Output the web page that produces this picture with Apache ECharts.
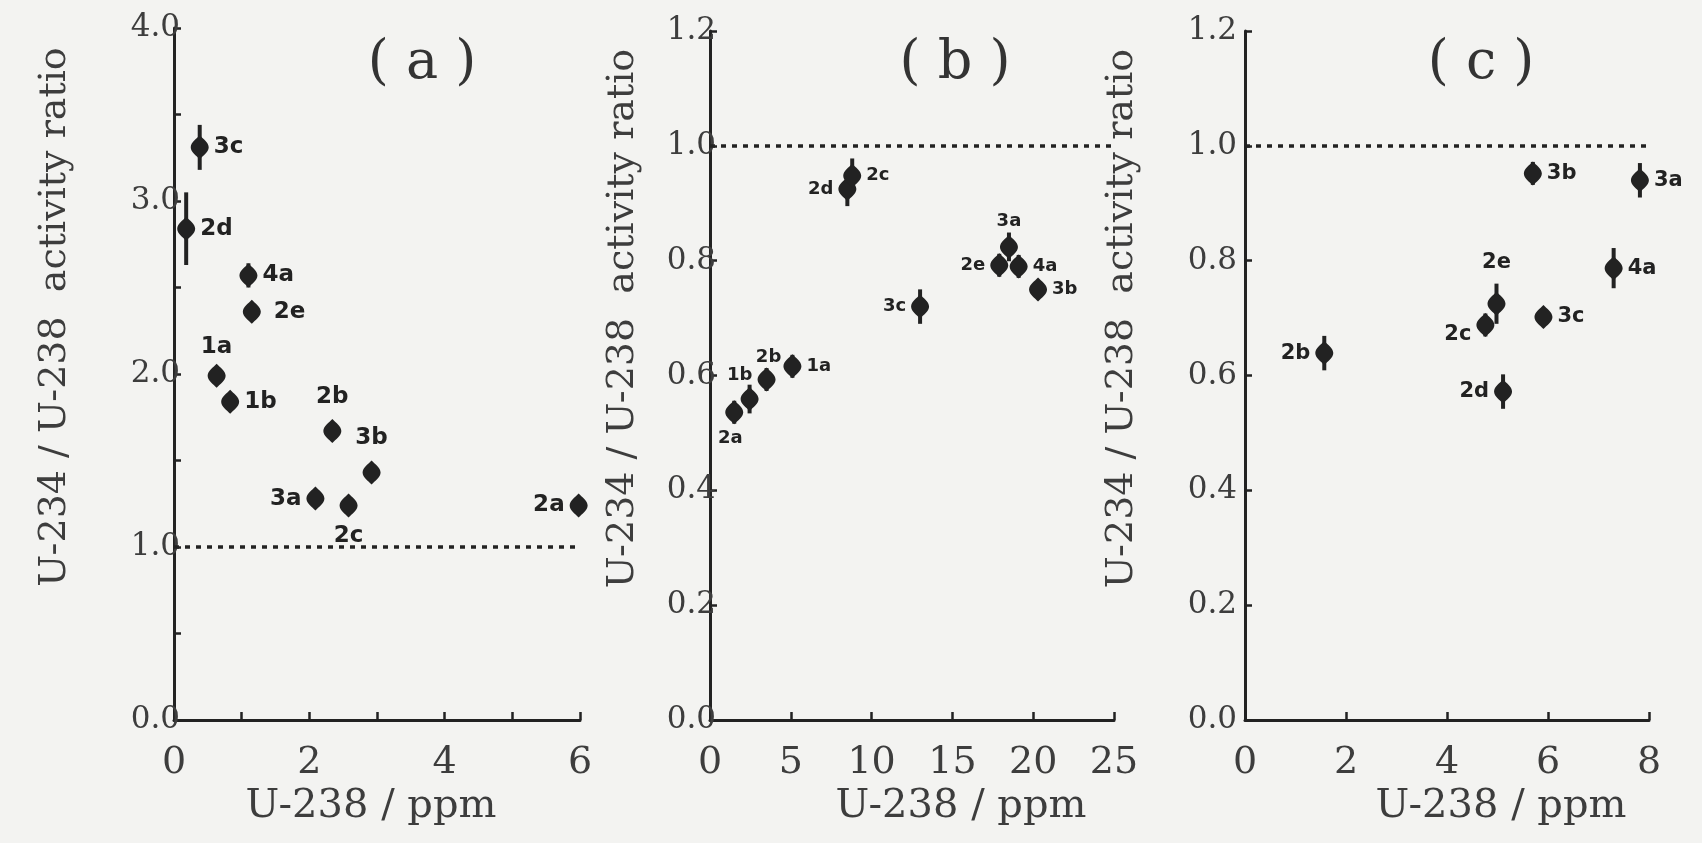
<!DOCTYPE html>
<html>
<head>
<meta charset="utf-8">
<script src="https://cdn.jsdelivr.net/npm/echarts@6/dist/echarts.min.js"></script>
<style>
  html, body { margin: 0; padding: 0; background: #f3f3f1; }
  #chart { width: 1702px; height: 843px; }
</style>
</head>
<body>
<div id="chart"></div>
<script>
// ---- Panel (a) ----
const aIds   = ['3c', '2d', '4a', '2e', '1a', '1b', '2b', '3b', '3a', '2c', '2a'];
const aU238  = [0.38, 0.18, 1.10, 1.15, 0.63, 0.83, 2.34, 2.92, 2.09, 2.58, 5.98];
const aRatio = [3.31, 2.84, 2.57, 2.36, 1.99, 1.84, 1.67, 1.43, 1.28, 1.24, 1.24];
const aErr   = [0.13, 0.21, 0.07, 0.05, 0.05, 0.05, 0.04, 0.05, 0.05, 0.05, 0.03];
const aXTicks = [0, 2, 4, 6];
const aYTicks = [0, 1, 2, 3, 4];

// ---- Panel (b) ----
const bIds   = ['2a', '1b', '2b', '1a', '2d', '2c', '3c', '3a', '2e', '4a', '3b'];
const bU238  = [1.5, 2.45, 3.5, 5.1, 8.5, 8.8, 13.0, 18.5, 17.9, 19.1, 20.3];
const bRatio = [0.536, 0.559, 0.593, 0.616, 0.925, 0.948, 0.720, 0.824, 0.792, 0.790, 0.750];
const bErr   = [0.020, 0.025, 0.020, 0.020, 0.030, 0.030, 0.030, 0.025, 0.020, 0.020, 0.015];
const bXTicks = [0, 5, 10, 15, 20, 25];
const bYTicks = [0, 0.2, 0.4, 0.6, 0.8, 1.0, 1.2];

// ---- Panel (c) ----
const cIds   = ['2b', '2e', '2c', '3c', '4a', '2d', '3b', '3a'];
const cU238  = [1.57, 4.98, 4.76, 5.91, 7.30, 5.11, 5.70, 7.82];
const cRatio = [0.639, 0.725, 0.688, 0.702, 0.787, 0.572, 0.952, 0.940];
const cErr   = [0.030, 0.035, 0.020, 0.015, 0.035, 0.030, 0.020, 0.030];
const cXTicks = [0, 2, 4, 6, 8];
const cYTicks = [0, 0.2, 0.4, 0.6, 0.8, 1.0, 1.2];

// secular equilibrium reference
const equilibrium = 1.0;

// where each sample tag sits relative to its marker
const tagSide = {
  a: { '3c': 'right', '2d': 'right', '4a': 'right', '2e': 'right', '1a': 'top', '1b': 'right',
       '2b': 'top', '3b': 'top', '3a': 'left', '2c': 'bottom', '2a': 'left' },
  b: { '2a': 'bottom', '1b': 'top', '2b': 'top', '1a': 'right', '2d': 'left', '2c': 'right',
       '3c': 'left', '3a': 'top', '2e': 'left', '4a': 'right', '3b': 'right' },
  c: { '2b': 'left', '2e': 'top', '2c': 'left', '3c': 'right', '4a': 'right', '2d': 'left',
       '3b': 'right', '3a': 'right' }
};
const tagOffset = {
  a: { '2e': [8, 0], '2b': [0, -6], '3b': [0, -6], '2c': [0, 2] },
  b: { '1b': [-10, 2], '2b': [2, 4], '2a': [-4, 0] },
  c: { '2e': [0, -14], '2c': [0, 10] }
};

const INK = '#222222';
const TEXT = '#3d3d3d';
const SERIF = 'DejaVu Serif';

const markerPath = 'path://M0,-10 C2.5,-7 7,-4 7,0 C7,4 2.5,7 0,10 C-2.5,7 -7,4 -7,0 C-7,-4 -2.5,-7 0,-10 Z';

const panels = [
  { key: 'a', ids: aIds, xs: aU238, ys: aRatio, es: aErr, xT: aXTicks, yT: aYTicks,
    grid: { left: 174, top: 28, width: 406, height: 692 },
    x: { max: 6, interval: 1 }, y: { max: 4, interval: 0.5 },
    yLabelMargin: -6, yNameGap: 100, xNameShift: -6, tagSize: 23 },
  { key: 'b', ids: bIds, xs: bU238, ys: bRatio, es: bErr, xT: bXTicks, yT: bYTicks,
    grid: { left: 710, top: 31, width: 404, height: 689 },
    x: { max: 25, interval: 5 }, y: { max: 1.2, interval: 0.2 },
    yLabelMargin: -6, yNameGap: 68, xNameShift: 49, tagSize: 18 },
  { key: 'c', ids: cIds, xs: cU238, ys: cRatio, es: cErr, xT: cXTicks, yT: cYTicks,
    grid: { left: 1245, top: 31, width: 404, height: 689 },
    x: { max: 8, interval: 2 }, y: { max: 1.2, interval: 0.2 },
    yLabelMargin: 8, yNameGap: 104, xNameShift: 54, tagSize: 21 }
];

const onTick = (list, v) => list.some(t => Math.abs(t - v) < 1e-6);

const grids = [], xAxes = [], yAxes = [], series = [], graphics = [];

panels.forEach((p, i) => {
  grids.push(Object.assign({ outerBoundsMode: 'none', containLabel: false }, p.grid));

  // a centred name is moved sideways by half of its one-sided padding
  const shift = 2 * Math.abs(p.xNameShift);
  xAxes.push({
    type: 'value', gridIndex: i, min: 0, max: p.x.max, interval: p.x.interval,
    splitLine: { show: false },
    axisLine: { show: true, onZero: false, lineStyle: { color: INK, width: 3 } },
    axisTick: { show: true, inside: true, length: 8, lineStyle: { color: INK, width: 2.5 } },
    axisLabel: {
      margin: 24, fontFamily: SERIF, fontSize: 38, color: TEXT,
      showMinLabel: true, showMaxLabel: true,
      formatter: v => onTick(p.xT, v) ? String(Math.round(v)) : ''
    },
    name: 'U-238 / ppm', nameLocation: 'middle', nameGap: 63,
    nameTextStyle: {
      fontFamily: SERIF, fontSize: 40, color: TEXT,
      padding: p.xNameShift >= 0 ? [0, 0, 0, shift] : [0, shift, 0, 0]
    }
  });

  yAxes.push({
    type: 'value', gridIndex: i, min: 0, max: p.y.max, interval: p.y.interval,
    splitLine: { show: false },
    axisLine: { show: true, onZero: false, lineStyle: { color: INK, width: 3 } },
    axisTick: { show: true, inside: true, length: 7, lineStyle: { color: INK, width: 2.5 } },
    axisLabel: {
      margin: p.yLabelMargin, fontFamily: SERIF, fontSize: 31, color: TEXT,
      showMinLabel: true, showMaxLabel: true,
      formatter: v => onTick(p.yT, v) ? v.toFixed(1) : ''
    },
    name: 'U-234 / U-238  activity ratio', nameLocation: 'middle', nameGap: p.yNameGap,
    nameTextStyle: { fontFamily: SERIF, fontSize: 38, color: TEXT, padding: [0, 0, 0, 114] }
  });

  const pts = p.ids.map((id, k) => [p.xs[k], p.ys[k], p.es[k], id]);

  // vertical error bars
  series.push({
    type: 'custom', xAxisIndex: i, yAxisIndex: i, silent: true, z: 3,
    data: pts,
    renderItem: (params, api) => {
      const x = api.value(0), y = api.value(1), e = api.value(2);
      const hi = api.coord([x, y + e]);
      const lo = api.coord([x, y - e]);
      return { type: 'line', shape: { x1: hi[0], y1: hi[1], x2: lo[0], y2: lo[1] },
               style: { stroke: INK, lineWidth: 4 } };
    }
  });

  // sample markers with their tags, plus the equilibrium line
  series.push({
    type: 'scatter', xAxisIndex: i, yAxisIndex: i, z: 4, silent: true,
    symbol: markerPath, symbolSize: [18, 24],
    itemStyle: { color: INK, opacity: 1 },
    data: pts.map(d => ({
      value: d,
      label: {
        show: true, formatter: d[3],
        position: tagSide[p.key][d[3]],
        offset: (tagOffset[p.key] || {})[d[3]] || [0, 0],
        distance: 5,
        fontFamily: 'DejaVu Sans', fontWeight: 'bold', fontSize: p.tagSize, color: '#222'
      }
    })),
    markLine: {
      silent: true, symbol: 'none', animation: false,
      label: { show: false },
      lineStyle: { color: INK, width: 3.5, type: [5, 6] },
      data: [{ yAxis: equilibrium }]
    }
  });
});

// panel captions
[['( a )', 422], ['( b )', 955], ['( c )', 1481]].forEach(([t, cx]) => {
  graphics.push({
    type: 'text', x: cx, y: 64,
    style: { text: t, fontFamily: SERIF, fontSize: 54, fill: '#333',
             align: 'center', verticalAlign: 'middle' }
  });
});

const chart = echarts.init(document.getElementById('chart'), null, { renderer: 'canvas' });
chart.setOption({
  backgroundColor: '#f3f3f1',
  animation: false,
  grid: grids,
  xAxis: xAxes,
  yAxis: yAxes,
  series: series,
  graphic: graphics
});
</script>
</body>
</html>
